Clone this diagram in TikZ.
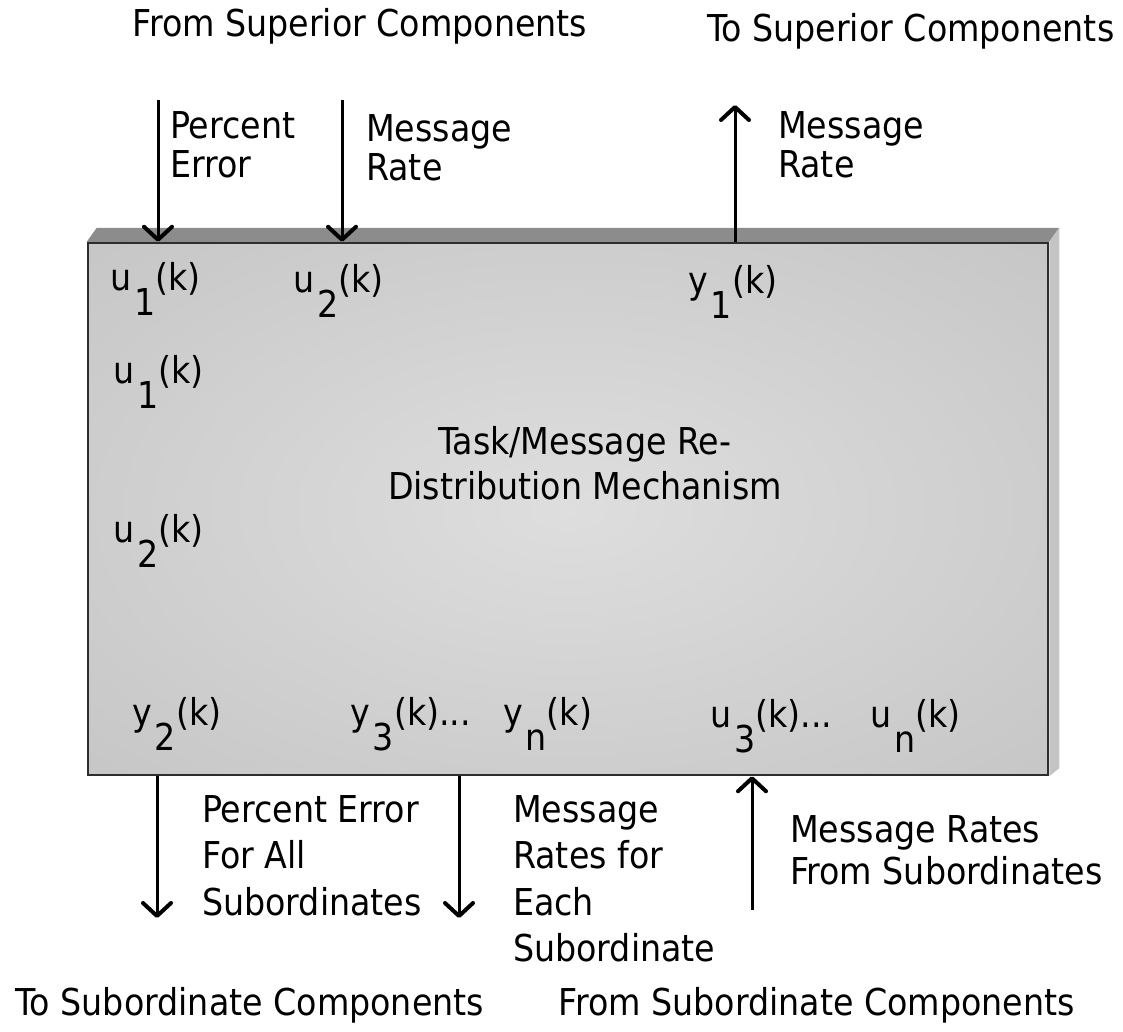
\documentclass[tikz,border=0pt]{standalone}
\usepackage{fontspec}
\setmainfont{DejaVu Sans Condensed}
\usetikzlibrary{arrows.meta,backgrounds}
\definecolor{boxtop}{RGB}{140,140,140}
\definecolor{boxside}{RGB}{196,196,196}
\definecolor{boxedge}{RGB}{45,45,45}
\pgfdeclareradialshading{boxglow}{\pgfpoint{0bp}{0bp}}{color(0bp)=(gray!26); color(50bp)=(gray!52); color(75bp)=(gray!52)}
\newcommand{\sig}[2]{#1\kern0.08em\raisebox{-0.68em}{#2}(k)}
\begin{document}
\begin{tikzpicture}[x=1pt,y=-1pt,
        lbl/.style={inner sep=0pt, anchor=north west, align=left, font=\fontsize{37}{39}\selectfont},
        var/.style={inner sep=0pt, anchor=base west, font=\fontsize{37}{44}\selectfont},
        side/.style={inner sep=0pt, anchor=base, font=\fontsize{37}{44}\selectfont},
        flow/.style={line width=3pt, -{Straight Barb[length=13pt,width=28pt,line width=4pt,round]}}
    ]
    \useasboundingbox (0,0) rectangle (1123,1031);
    \node[draw=boxedge, line width=2.5pt, shading=boxglow, minimum width=960pt, minimum height=532pt, inner sep=0pt] (box) at (568,509) {};
    \begin{scope}[on background layer]
        \fill[boxtop] (box.north west) -- ++(10,-14) -- ([shift={(10,-14)}]box.north east) -- (box.north east) -- cycle;
        \fill[boxside] (box.north east) -- ++(10,-14) -- ([shift={(10,-8)}]box.south east) -- (box.south east) -- cycle;
    \end{scope}

    \node[side] (fromsup) at (360,36) {From Superior Components};
    \node[side] (tosup) at (911,41) {To Superior Components};
    \node[side] (tosub) at (250,1015) {To Subordinate Components};
    \node[side] (fromsub) at (817,1015) {From Subordinate Components};

    \coordinate (perrin) at (158,100);
    \coordinate (ratein) at (342,100);
    \coordinate (rateout) at (735,105);
    \draw[flow] (perrin) -- (perrin |- box.north);
    \draw[flow] (ratein) -- (ratein |- box.north);
    \draw[flow] (box.north -| rateout) -- (rateout);
    \node[lbl] (perr) at (170,111) {Percent\\Error};
    \node[lbl] (mrin) at (366,114) {Message\\Rate};
    \node[lbl] (mrout) at (778,111) {Message\\Rate};

    \node[var] (ua) at (110,290) {\sig{u}{1}};
    \node[var] (ub) at (293,292) {\sig{u}{2}};
    \node[var] (ya) at (688,293) {\sig{y}{1}};
    \node[var] (uc) at (113,383) {\sig{u}{1}};
    \node[var] (ud) at (113,542) {\sig{u}{2}};
    \node[var] (yb) at (132,725) {\sig{y}{2}};
    \node[var] (yc) at (350,725) {\sig{y}{3}...};
    \node[var] (yn) at (503,725) {\sig{y}{n}};
    \node[var] (uf) at (710,727) {\sig{u}{3}...};
    \node[var] (un) at (870,727) {\sig{u}{n}};
    \node[align=center, inner sep=0pt, font=\fontsize{37}{45}\selectfont] (mech) at (585,463) {Task/Message Re-\\Distribution Mechanism};

    \coordinate (perrout) at (157,918);
    \coordinate (rateeach) at (459,918);
    \coordinate (ratesub) at (752,910);
    \draw[flow] (box.south -| perrout) -- (perrout);
    \draw[flow] (box.south -| rateeach) -- (rateeach);
    \draw[flow] (ratesub) -- (ratesub |- box.south);
    \node[lbl, font=\fontsize{37}{46.5}\selectfont] (perrall) at (202,795) {Percent Error\\For All\\Subordinates};
    \node[lbl, font=\fontsize{37}{46.5}\selectfont] (mreach) at (513,795) {Message\\Rates for\\Each\\Subordinate};
    \node[lbl, font=\fontsize{37}{42}\selectfont] (mrsub) at (790,815) {Message Rates\\From Subordinates};
\end{tikzpicture}
\end{document}
